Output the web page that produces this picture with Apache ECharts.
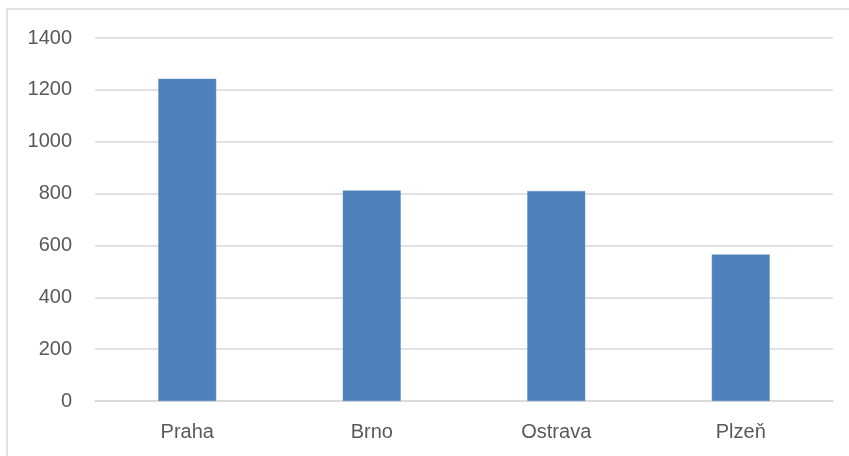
<!DOCTYPE html>
<html>
<head>
<meta charset="utf-8">
<script src="https://cdn.jsdelivr.net/npm/echarts@6/dist/echarts.min.js"></script>
<style>
  html, body { margin: 0; padding: 0; background: #fff; }
  #chart { width: 849px; height: 456px; }
</style>
</head>
<body>
<div id="chart"></div>
<script>
// data
const cities = ["Praha", "Brno", "Ostrava", "Plzeň"];
const values = [1243, 812, 810, 565];

const font = "Liberation Sans, Arial, sans-serif";
const chart = echarts.init(document.getElementById("chart"), null, { renderer: "canvas" });

const option = {
  animation: false,
  backgroundColor: "#fff",
  graphic: [
    {
      type: "rect",
      shape: { x: 7, y: 9, width: 860, height: 470 },
      style: { fill: "none", stroke: "#d9d9d9", lineWidth: 1.5 },
      silent: true,
    },
  ],
  grid: {
    left: 95,
    right: 16,
    top: 38,
    bottom: 55,
    containLabel: false,
  },
  xAxis: {
    type: "category",
    data: cities,
    axisLine: { show: true, lineStyle: { color: "#d9d9d9", width: 1.5 } },
    axisTick: { show: false },
    axisLabel: {
      color: "#595959",
      fontSize: 20,
      fontFamily: font,
      margin: 21,
    },
  },
  yAxis: {
    type: "value",
    min: 0,
    max: 1400,
    interval: 200,
    axisLine: { show: false },
    axisTick: { show: false },
    splitLine: { lineStyle: { color: "#d9d9d9", width: 1.5 } },
    axisLabel: {
      color: "#595959",
      fontSize: 20,
      fontFamily: font,
      margin: 23,
      formatter: (v) => String(v),
    },
  },
  series: [
    {
      type: "bar",
      data: values,
      barWidth: 58,
      itemStyle: { color: "#4f81bd", borderColor: "#6a93c6", borderWidth: 0.5 },
    },
  ],
};

chart.setOption(option);
</script>
</body>
</html>
